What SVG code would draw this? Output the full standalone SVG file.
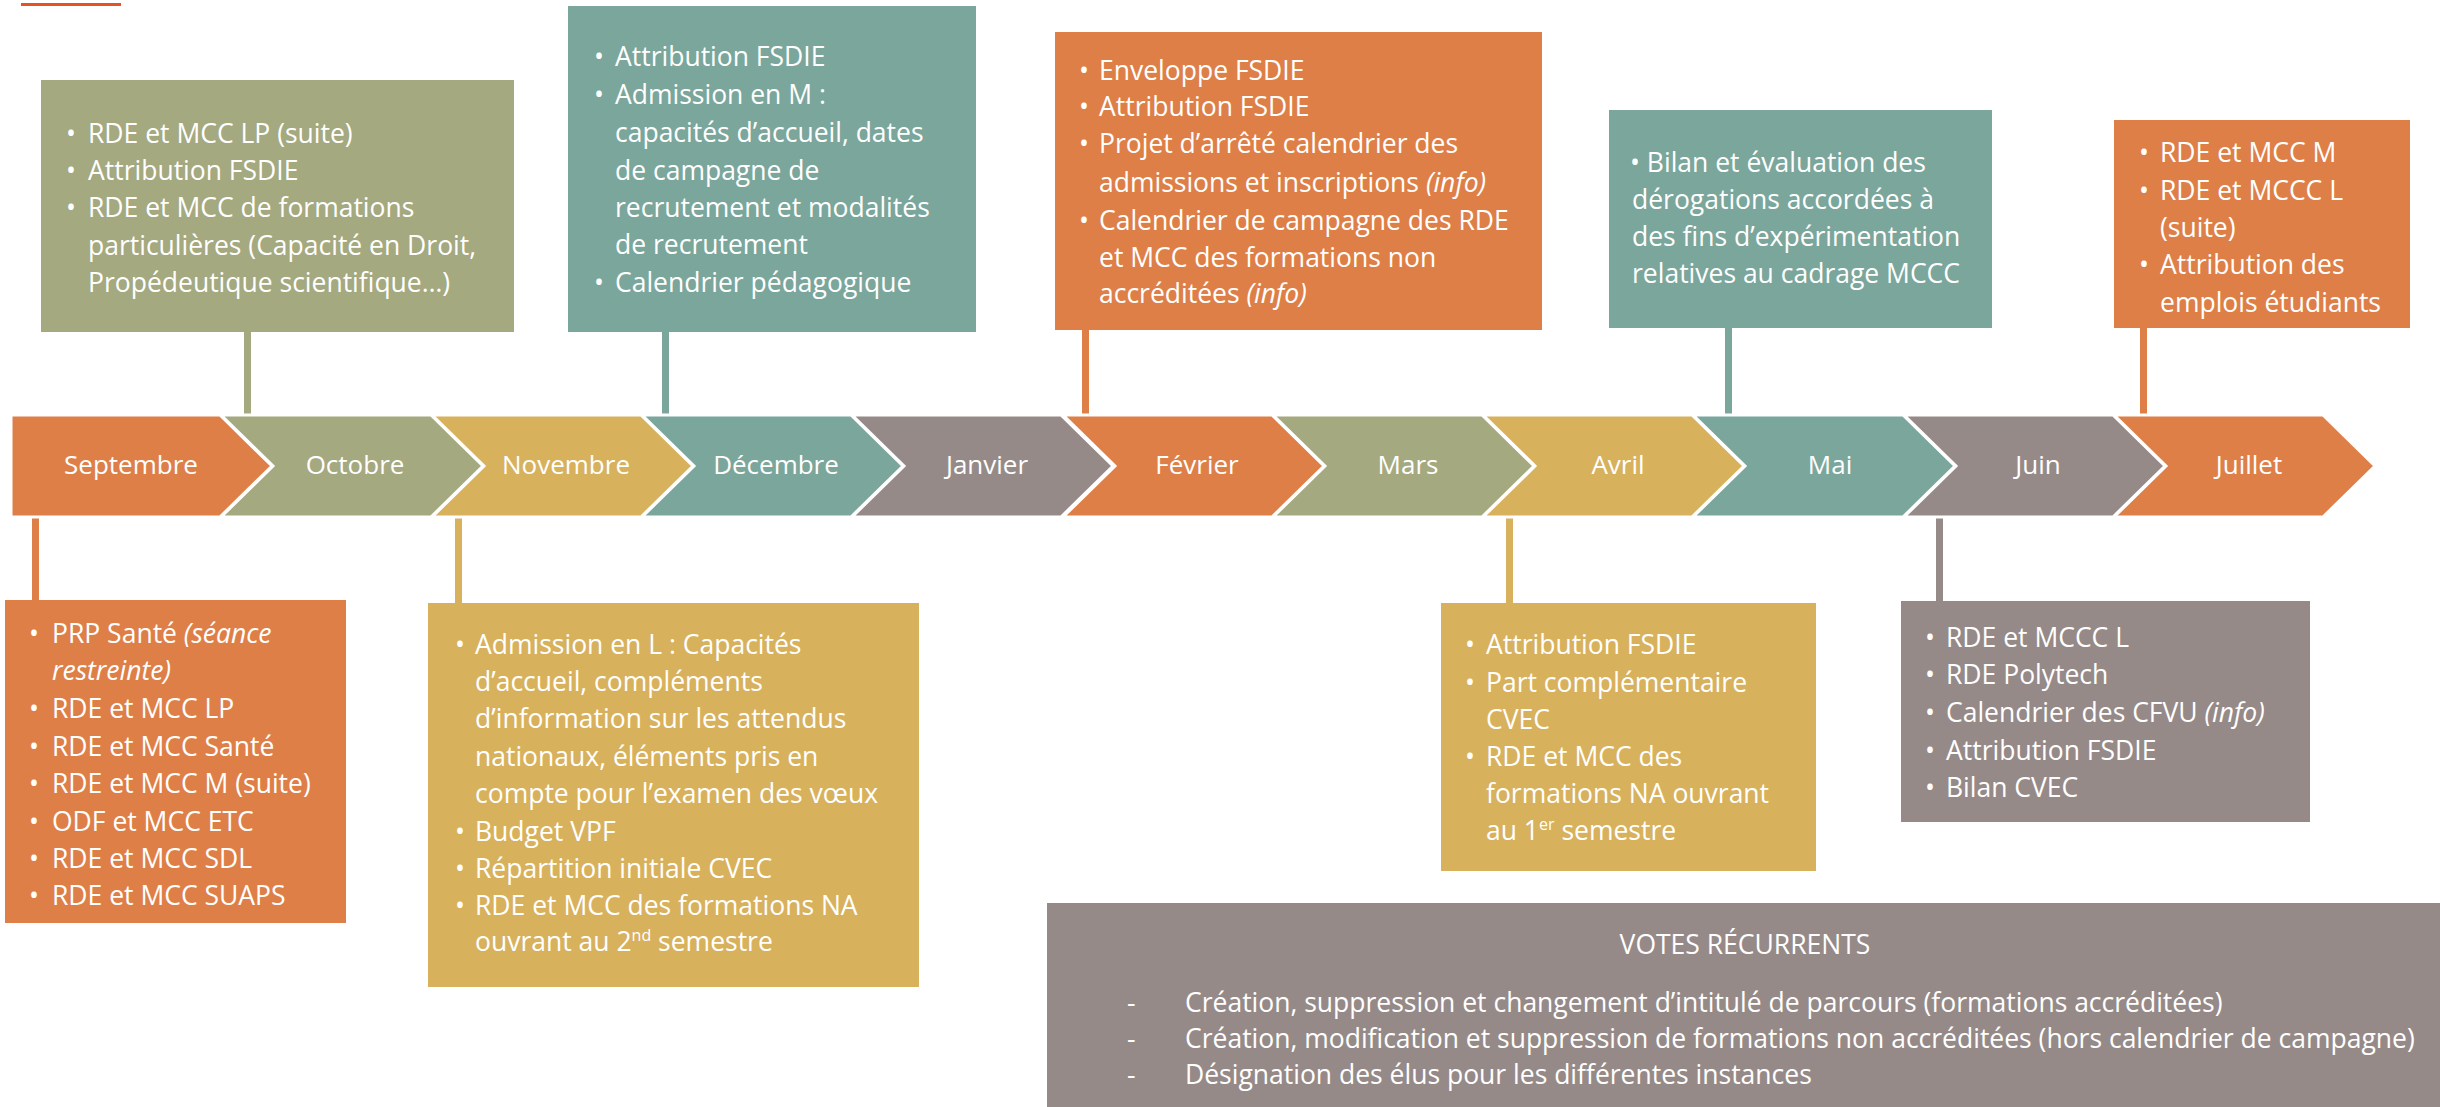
<svg xmlns="http://www.w3.org/2000/svg" width="2440" height="1107" viewBox="0 0 2440 1107">
<style>
  text { font-family: "Open Sans", "Noto Sans", "Liberation Sans", sans-serif; fill: #ffffff; }
  .t { font-size: 26.5px; }
  .m { font-size: 26px; text-anchor: middle; }
  .i { font-style: italic; }
  .sup { font-size: 16px; }
  .or { fill: #DE7F48; }
  .ol { fill: #A4A97F; }
  .go { fill: #D8B15C; }
  .te { fill: #7BA69B; }
  .gr { fill: #968A88; }
  .chev { stroke: #ffffff; stroke-width: 3; stroke-linejoin: miter; }
</style>
<rect x="0" y="0" width="2440" height="1107" fill="#ffffff"/>
<rect x="21" y="3" width="100" height="3" fill="#E5531F"/>

<g id="connectors">
  <rect class="ol" x="244" y="330" width="7" height="87"/>
  <rect class="te" x="662" y="330" width="7" height="87"/>
  <rect class="or" x="1082" y="328" width="7" height="89"/>
  <rect class="te" x="1725" y="326" width="7" height="91"/>
  <rect class="or" x="2140" y="326" width="7" height="91"/>
  <rect class="or" x="32" y="515" width="7" height="87"/>
  <rect class="go" x="455" y="515" width="7" height="90"/>
  <rect class="go" x="1506" y="515" width="7" height="90"/>
  <rect class="gr" x="1936" y="515" width="7" height="88"/>
</g>

<g id="timeline">
  <g id="m-sep"><polygon class="chev or" points="11,415 220,415 272,466 220,517 11,517"/><text class="m" x="131" y="474">Septembre</text></g>
  <g id="m-oct"><polygon class="chev ol" points="221,415 431,415 483,466 431,517 221,517 273,466"/><text class="m" x="355" y="474">Octobre</text></g>
  <g id="m-nov"><polygon class="chev go" points="432,415 641,415 693,466 641,517 432,517 484,466"/><text class="m" x="566" y="474">Novembre</text></g>
  <g id="m-dec"><polygon class="chev te" points="642,415 851,415 903,466 851,517 642,517 694,466"/><text class="m" x="776" y="474">Décembre</text></g>
  <g id="m-jan"><polygon class="chev gr" points="852,415 1061,415 1113,466 1061,517 852,517 904,466"/><text class="m" x="987" y="474">Janvier</text></g>
  <g id="m-feb"><polygon class="chev or" points="1063,415 1272,415 1324,466 1272,517 1063,517 1115,466"/><text class="m" x="1197" y="474">Février</text></g>
  <g id="m-mar"><polygon class="chev ol" points="1273,415 1482,415 1534,466 1482,517 1273,517 1325,466"/><text class="m" x="1408" y="474">Mars</text></g>
  <g id="m-apr"><polygon class="chev go" points="1483,415 1692,415 1744,466 1692,517 1483,517 1535,466"/><text class="m" x="1618" y="474">Avril</text></g>
  <g id="m-may"><polygon class="chev te" points="1693,415 1903,415 1955,466 1903,517 1693,517 1745,466"/><text class="m" x="1830" y="474">Mai</text></g>
  <g id="m-jun"><polygon class="chev gr" points="1904,415 2113,415 2165,466 2113,517 1904,517 1956,466"/><text class="m" x="2038" y="474">Juin</text></g>
  <g id="m-jul"><polygon class="chev or" points="2114,415 2323,415 2375,466 2323,517 2114,517 2166,466"/><text class="m" x="2249" y="474">Juillet</text></g>
</g>

<g id="box-oct">
  <rect class="ol" x="41" y="80" width="473" height="252"/>
  <g class="t">
    <text x="66" y="143">•</text><text x="88" y="143">RDE et MCC LP (suite)</text>
    <text x="66" y="180">•</text><text x="88" y="180">Attribution FSDIE</text>
    <text x="66" y="217">•</text><text x="88" y="217">RDE et MCC de formations</text>
    <text x="88" y="255">particulières (Capacité en Droit,</text>
    <text x="88" y="292">Propédeutique scientifique…)</text>
  </g>
</g>

<g id="box-dec">
  <rect class="te" x="568" y="6" width="408" height="326"/>
  <g class="t">
    <text x="594" y="66">•</text><text x="615" y="66">Attribution FSDIE</text>
    <text x="594" y="104">•</text><text x="615" y="104">Admission en M :</text>
    <text x="615" y="142">capacités d’accueil, dates</text>
    <text x="615" y="180">de campagne de</text>
    <text x="615" y="217">recrutement et modalités</text>
    <text x="615" y="254">de recrutement</text>
    <text x="594" y="292">•</text><text x="615" y="292">Calendrier pédagogique</text>
  </g>
</g>

<g id="box-feb">
  <rect class="or" x="1055" y="32" width="487" height="298"/>
  <g class="t">
    <text x="1079" y="80">•</text><text x="1099" y="80">Enveloppe FSDIE</text>
    <text x="1079" y="116">•</text><text x="1099" y="116">Attribution FSDIE</text>
    <text x="1079" y="153">•</text><text x="1099" y="153">Projet d’arrêté calendrier des</text>
    <text x="1099" y="192">admissions et inscriptions <tspan class="i">(info)</tspan></text>
    <text x="1079" y="230">•</text><text x="1099" y="230">Calendrier de campagne des RDE</text>
    <text x="1099" y="267">et MCC des formations non</text>
    <text x="1099" y="303">accréditées <tspan class="i">(info)</tspan></text>
  </g>
</g>

<g id="box-may">
  <rect class="te" x="1609" y="110" width="383" height="218"/>
  <g class="t">
    <text x="1630" y="172">• Bilan et évaluation des</text>
    <text x="1632" y="209">dérogations accordées à</text>
    <text x="1632" y="246">des fins d’expérimentation</text>
    <text x="1632" y="283">relatives au cadrage MCCC</text>
  </g>
</g>

<g id="box-jul">
  <rect class="or" x="2114" y="120" width="296" height="208"/>
  <g class="t">
    <text x="2139" y="162">•</text><text x="2160" y="162">RDE et MCC M</text>
    <text x="2139" y="200">•</text><text x="2160" y="200">RDE et MCCC L</text>
    <text x="2160" y="237">(suite)</text>
    <text x="2139" y="274">•</text><text x="2160" y="274">Attribution des</text>
    <text x="2160" y="312">emplois étudiants</text>
  </g>
</g>

<g id="box-sep">
  <rect class="or" x="5" y="600" width="341" height="323"/>
  <g class="t">
    <text x="29" y="643">•</text><text x="52" y="643">PRP Santé <tspan class="i">(séance</tspan></text>
    <text x="52" y="680" class="i">restreinte)</text>
    <text x="29" y="718">•</text><text x="52" y="718">RDE et MCC LP</text>
    <text x="29" y="756">•</text><text x="52" y="756">RDE et MCC Santé</text>
    <text x="29" y="793">•</text><text x="52" y="793">RDE et MCC M (suite)</text>
    <text x="29" y="831">•</text><text x="52" y="831">ODF et MCC ETC</text>
    <text x="29" y="868">•</text><text x="52" y="868">RDE et MCC SDL</text>
    <text x="29" y="905">•</text><text x="52" y="905">RDE et MCC SUAPS</text>
  </g>
</g>

<g id="box-nov">
  <rect class="go" x="428" y="603" width="491" height="384"/>
  <g class="t">
    <text x="455" y="654">•</text><text x="475" y="654">Admission en L : Capacités</text>
    <text x="475" y="691">d’accueil, compléments</text>
    <text x="475" y="728">d’information sur les attendus</text>
    <text x="475" y="766">nationaux, éléments pris en</text>
    <text x="475" y="803">compte pour l’examen des vœux</text>
    <text x="455" y="841">•</text><text x="475" y="841">Budget VPF</text>
    <text x="455" y="878">•</text><text x="475" y="878">Répartition initiale CVEC</text>
    <text x="455" y="915">•</text><text x="475" y="915">RDE et MCC des formations NA</text>
    <text x="475" y="951">ouvrant au 2<tspan class="sup" dy="-10">nd</tspan><tspan dy="10"> semestre</tspan></text>
  </g>
</g>

<g id="box-apr">
  <rect class="go" x="1441" y="603" width="375" height="268"/>
  <g class="t">
    <text x="1465" y="654">•</text><text x="1486" y="654">Attribution FSDIE</text>
    <text x="1465" y="692">•</text><text x="1486" y="692">Part complémentaire</text>
    <text x="1486" y="729">CVEC</text>
    <text x="1465" y="766">•</text><text x="1486" y="766">RDE et MCC des</text>
    <text x="1486" y="803">formations NA ouvrant</text>
    <text x="1486" y="840">au 1<tspan class="sup" dy="-10">er</tspan><tspan dy="10"> semestre</tspan></text>
  </g>
</g>

<g id="box-jun">
  <rect class="gr" x="1901" y="601" width="409" height="221"/>
  <g class="t">
    <text x="1925" y="647">•</text><text x="1946" y="647">RDE et MCCC L</text>
    <text x="1925" y="684">•</text><text x="1946" y="684">RDE Polytech</text>
    <text x="1925" y="722">•</text><text x="1946" y="722">Calendrier des CFVU <tspan class="i">(info)</tspan></text>
    <text x="1925" y="760">•</text><text x="1946" y="760">Attribution FSDIE</text>
    <text x="1925" y="797">•</text><text x="1946" y="797">Bilan CVEC</text>
  </g>
</g>

<g id="box-votes">
  <rect class="gr" x="1047" y="903" width="1393" height="204"/>
  <g class="t">
    <text x="1745" y="954" text-anchor="middle">VOTES RÉCURRENTS</text>
    <text x="1127" y="1012">-</text><text x="1185" y="1012">Création, suppression et changement d’intitulé de parcours (formations accréditées)</text>
    <text x="1127" y="1048">-</text><text x="1185" y="1048">Création, modification et suppression de formations non accréditées (hors calendrier de campagne)</text>
    <text x="1127" y="1084">-</text><text x="1185" y="1084">Désignation des élus pour les différentes instances</text>
  </g>
</g>
</svg>
